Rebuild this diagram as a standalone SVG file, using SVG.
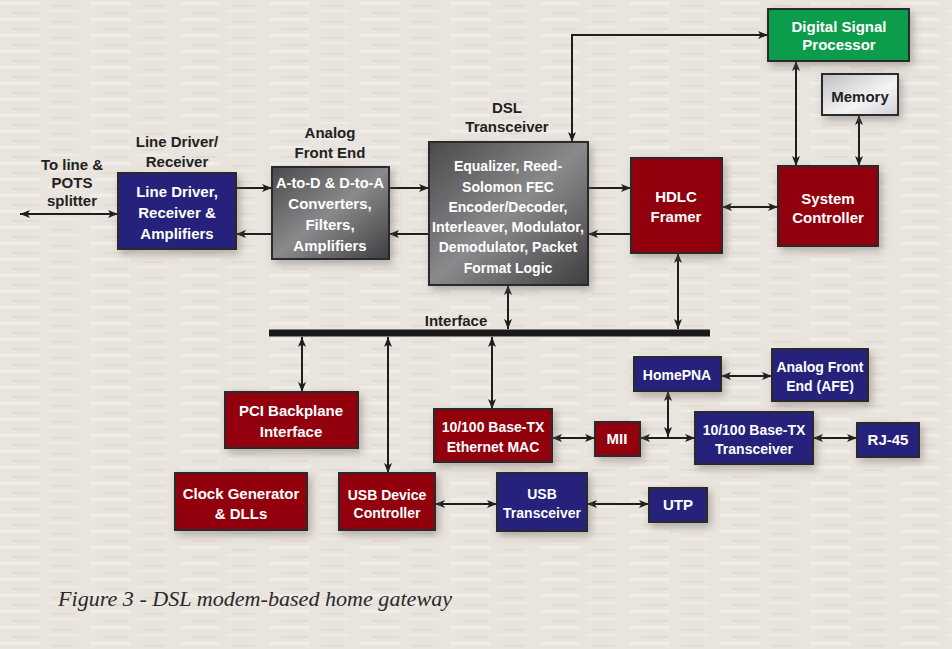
<svg xmlns="http://www.w3.org/2000/svg" width="952" height="649" viewBox="0 0 952 649">
<defs>
<linearGradient id="gGray" x1="0" y1="0" x2="1" y2="1">
<stop offset="0" stop-color="#4a4a4c"/>
<stop offset="0.5" stop-color="#8a8a8c"/>
<stop offset="1" stop-color="#3e3e40"/>
</linearGradient>
<linearGradient id="gMem" x1="0" y1="0" x2="1" y2="1">
<stop offset="0" stop-color="#bfbfc2"/>
<stop offset="0.6" stop-color="#f4f4f5"/>
<stop offset="1" stop-color="#d0d0d3"/>
</linearGradient>
<pattern id="tex" width="90" height="16" patternUnits="userSpaceOnUse">
<rect width="90" height="16" fill="#e9e4de"/>
<rect x="0" y="2" width="40" height="3" fill="#f0ece7"/>
<rect x="48" y="10" width="30" height="2" fill="#efebe6"/>
<rect x="12" y="12" width="26" height="2" fill="#e2dcd5"/>
<rect x="52" y="5" width="22" height="2" fill="#e2dcd5"/>
</pattern>
<filter id="sh" x="-20%" y="-20%" width="150%" height="150%">
<feDropShadow dx="3" dy="4" stdDeviation="4" flood-color="#6b625a" flood-opacity="0.45"/>
</filter>
<marker id="ah" viewBox="0 0 10 8" refX="10" refY="4" markerWidth="10" markerHeight="8" markerUnits="userSpaceOnUse" orient="auto-start-reverse">
<path d="M0,0 L10,4 L0,8 L2.5,4 Z" fill="#1e1e1e"/>
</marker>
<style>
.box{stroke:#2a2a2a;stroke-width:2;filter:url(#sh)}
.red{fill:#930008}
.navy{fill:#25237c}
.green{fill:#0a9c4c}
.gray{fill:url(#gGray)}
.mem{fill:url(#gMem)}
.t{font-family:"Liberation Sans",Arial,sans-serif;font-weight:bold;font-size:15px;text-anchor:middle;fill:#ffffff}
.td{font-family:"Liberation Sans",Arial,sans-serif;font-weight:bold;font-size:15px;text-anchor:middle;fill:#222222}
.ts{font-size:14px}
.c{fill:none;stroke:#1e1e1e;stroke-width:2}
.a{marker-end:url(#ah)}
.aa{marker-start:url(#ah);marker-end:url(#ah)}
</style>
</defs>
<rect width="952" height="649" fill="url(#tex)"/>

<g id="connectors">
<line class="c aa" x1="20" y1="214" x2="118" y2="214"/>
<line class="c a" x1="236" y1="188" x2="272" y2="188"/>
<line class="c a" x1="272" y1="234" x2="236" y2="234"/>
<line class="c a" x1="389" y1="188" x2="429" y2="188"/>
<line class="c a" x1="429" y1="234" x2="389" y2="234"/>
<line class="c a" x1="588" y1="188" x2="631" y2="188"/>
<line class="c a" x1="631" y1="234" x2="588" y2="234"/>
<path class="c aa" d="M572,142 V35 H768"/>
<line class="c aa" x1="722" y1="207" x2="778" y2="207"/>
<line class="c aa" x1="796" y1="61" x2="796" y2="166"/>
<line class="c aa" x1="859" y1="115" x2="859" y2="166"/>
<line class="c aa" x1="678" y1="253" x2="678" y2="329"/>
<line class="c aa" x1="508" y1="285" x2="508" y2="329"/>
<line x1="269" y1="333" x2="710" y2="333" stroke="#1a1a1a" stroke-width="7"/>
<line class="c aa" x1="302" y1="337" x2="302" y2="392"/>
<line class="c aa" x1="388" y1="337" x2="388" y2="473"/>
<line class="c aa" x1="492" y1="337" x2="492" y2="409"/>
<line class="c aa" x1="435" y1="504" x2="497" y2="504"/>
<line class="c aa" x1="587" y1="504" x2="649" y2="504"/>
<line class="c aa" x1="552" y1="438" x2="595" y2="438"/>
<line class="c aa" x1="640" y1="438" x2="695" y2="438"/>
<line class="c aa" x1="668" y1="391" x2="668" y2="437"/>
<line class="c aa" x1="721" y1="376" x2="772" y2="376"/>
<line class="c aa" x1="813" y1="438" x2="857" y2="438"/>
</g>

<g id="label-line">
<text class="td" x="72" y="170">To line &amp;</text>
<text class="td" x="72" y="188">POTS</text>
<text class="td" x="72" y="206">splitter</text>
</g>

<g id="line-driver">
<text class="td" x="177" y="147">Line Driver/</text>
<text class="td" x="177" y="167">Receiver</text>
<rect class="box navy" x="118" y="173" width="118" height="76"/>
<text class="t" x="177" y="197">Line Driver,</text>
<text class="t" x="177" y="218">Receiver &amp;</text>
<text class="t" x="177" y="239">Amplifiers</text>
</g>

<g id="analog-front-end">
<text class="td" x="330" y="138">Analog</text>
<text class="td" x="330" y="158">Front End</text>
<rect class="box gray" x="272" y="167" width="117" height="92"/>
<text class="t" x="330" y="188" textLength="108" lengthAdjust="spacingAndGlyphs">A-to-D &amp; D-to-A</text>
<text class="t" x="330" y="209">Converters,</text>
<text class="t" x="330" y="230">Filters,</text>
<text class="t" x="330" y="251">Amplifiers</text>
</g>

<g id="dsl-transceiver">
<text class="td" x="507" y="113">DSL</text>
<text class="td" x="507" y="132">Transceiver</text>
<rect class="box gray" x="429" y="142" width="159" height="143"/>
<text class="t ts" x="508" y="171">Equalizer, Reed-</text>
<text class="t ts" x="508" y="192">Solomon FEC</text>
<text class="t ts" x="508" y="212">Encoder/Decoder,</text>
<text class="t ts" x="508" y="232" textLength="152" lengthAdjust="spacingAndGlyphs">Interleaver, Modulator,</text>
<text class="t ts" x="508" y="252">Demodulator, Packet</text>
<text class="t ts" x="508" y="273">Format Logic</text>
</g>

<g id="hdlc-framer">
<rect class="box red" x="631" y="158" width="91" height="95"/>
<text class="t" x="676" y="202">HDLC</text>
<text class="t" x="676" y="222">Framer</text>
</g>

<g id="dsp">
<rect class="box green" x="768" y="9" width="141" height="52"/>
<text class="t" x="839" y="32">Digital Signal</text>
<text class="t" x="839" y="50">Processor</text>
</g>

<g id="memory">
<rect class="box mem" x="822" y="74" width="76" height="41"/>
<text class="td" x="860" y="102">Memory</text>
</g>

<g id="system-controller">
<rect class="box red" x="778" y="166" width="100" height="80"/>
<text class="t" x="828" y="204">System</text>
<text class="t" x="828" y="223">Controller</text>
</g>

<g id="interface-label">
<text class="td" x="456" y="326">Interface</text>
</g>

<g id="pci">
<rect class="box red" x="225" y="392" width="133" height="56"/>
<text class="t" x="291" y="416">PCI Backplane</text>
<text class="t" x="291" y="437">Interface</text>
</g>

<g id="clock">
<rect class="box red" x="175" y="473" width="132" height="57"/>
<text class="t" x="241" y="499">Clock Generator</text>
<text class="t" x="241" y="519">&amp; DLLs</text>
</g>

<g id="usb-device">
<rect class="box red" x="339" y="473" width="96" height="57"/>
<text class="t ts" x="387" y="500">USB Device</text>
<text class="t ts" x="387" y="518">Controller</text>
</g>

<g id="ethernet-mac">
<rect class="box red" x="434" y="409" width="118" height="53"/>
<text class="t ts" x="493" y="432">10/100 Base-TX</text>
<text class="t ts" x="493" y="452">Ethernet MAC</text>
</g>

<g id="usb-transceiver">
<rect class="box navy" x="497" y="473" width="90" height="58"/>
<text class="t ts" x="542" y="499">USB</text>
<text class="t ts" x="542" y="518">Transceiver</text>
</g>

<g id="utp">
<rect class="box navy" x="649" y="488" width="58" height="34"/>
<text class="t" x="678" y="510">UTP</text>
</g>

<g id="mii">
<rect class="box red" x="595" y="422" width="45" height="34"/>
<text class="t" x="617" y="444">MII</text>
</g>

<g id="homepna">
<rect class="box navy" x="634" y="357" width="87" height="34"/>
<text class="t ts" x="677" y="380">HomePNA</text>
</g>

<g id="afe">
<rect class="box navy" x="772" y="349" width="96" height="52"/>
<text class="t ts" x="820" y="372">Analog Front</text>
<text class="t ts" x="820" y="391">End (AFE)</text>
</g>

<g id="base-tx-transceiver">
<rect class="box navy" x="695" y="412" width="118" height="52"/>
<text class="t ts" x="754" y="435">10/100 Base-TX</text>
<text class="t ts" x="754" y="454">Transceiver</text>
</g>

<g id="rj45">
<rect class="box navy" x="857" y="423" width="62" height="34"/>
<text class="t" x="888" y="445">RJ-45</text>
</g>

<text x="58" y="606" textLength="394" lengthAdjust="spacingAndGlyphs" font-family="'Liberation Serif','Times New Roman',serif" font-style="italic" font-size="21" fill="#2a2a2a">Figure 3 - DSL modem-based home gateway</text>
</svg>
